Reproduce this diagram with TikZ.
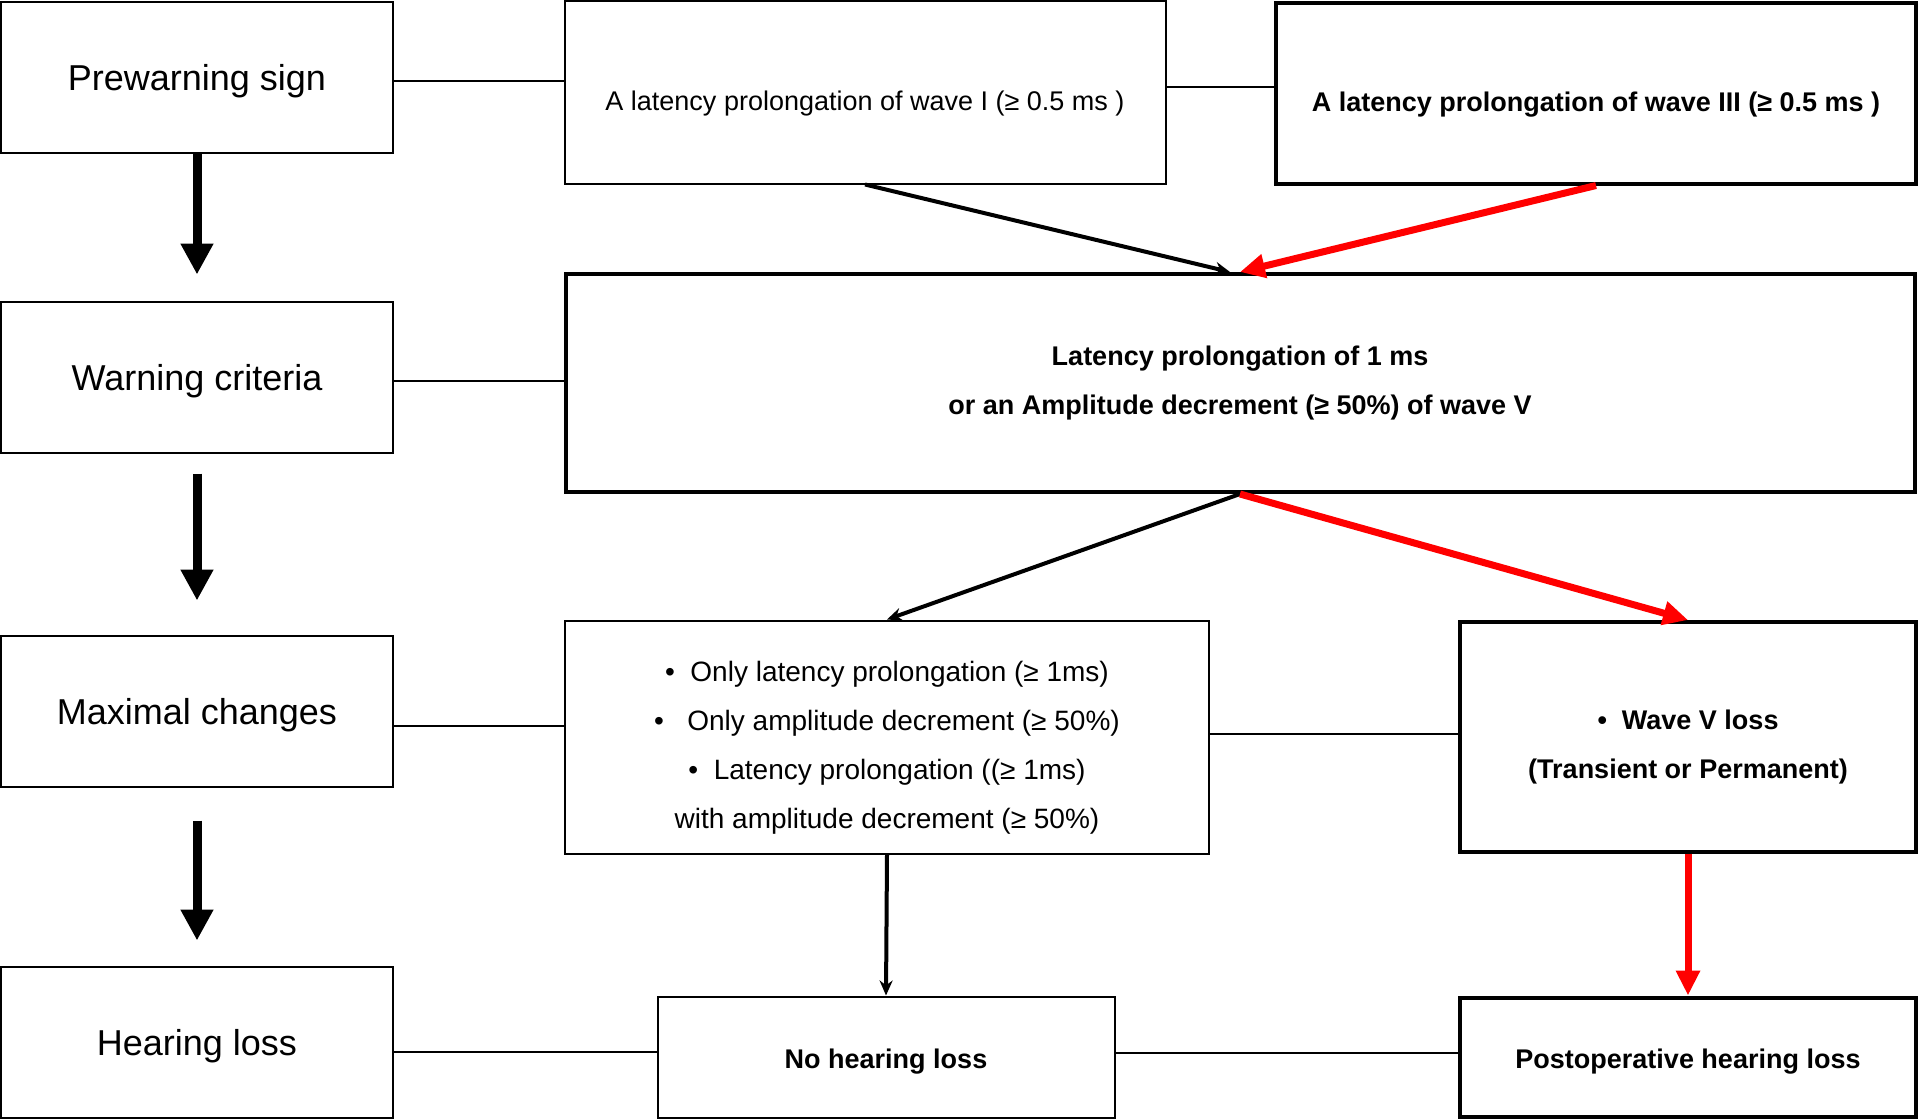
\documentclass[tikz,border=0pt]{standalone}
\usepackage{fontspec}
\setmainfont{Liberation Sans}
\usetikzlibrary{arrows.meta,positioning}

% text set a little below the middle of its box
\newcommand{\lowtext}[2]{\raisebox{0pt}[\dimexpr\height+#1\relax][\depth]{\begin{tabular}{@{}c@{}}#2\end{tabular}}}

\begin{document}
\begin{tikzpicture}[
            x=1pt, y=-1pt,
            stage/.style={draw, rectangle, line width=2pt, minimum width=392pt, minimum height=151pt, inner sep=0pt, align=center, font=\fontsize{36}{43}\selectfont},
            box/.style={draw, rectangle, line width=2pt, inner sep=0pt, align=center, font=\fontsize{27}{49}\selectfont},
            keybox/.style={box, line width=4pt, font=\fontsize{27}{49}\selectfont\bfseries},
            link/.style={line width=2pt},
            flow/.style={line width=9pt, -{Triangle[length=31pt,width=31pt]}},
            path/.style={line width=4pt, -{Stealth[length=15pt,width=13pt]}},
            redpath/.style={line width=7pt, red, -{Triangle[length=25pt,width=23pt]}}
        ]
            \useasboundingbox (0,0) rectangle (1922,1119);

            % stages on the left
            \node[stage] (pre) at (197,77) {\lowtext{10pt}{Prewarning sign}};
            \node[stage] (warn) at (197,377) {\lowtext{10pt}{Warning criteria}};
            \node[stage] (maxc) at (197,711) {\lowtext{10pt}{Maximal changes}};
            \node[stage] (hear) at (197,1042) {\lowtext{10pt}{Hearing loss}};

            % findings
            \node[box, minimum width=601pt, minimum height=183pt] (wave1) at (865,92) {\lowtext{17pt}{A latency prolongation of wave I (≥ 0.5 ms )}};
            \node[keybox, minimum width=640pt, minimum height=181pt] (wave3) at (1596,93) {\lowtext{17pt}{A latency prolongation of wave III (≥ 0.5 ms )}};
            \node[keybox, minimum width=1349pt, minimum height=218pt] (crit) at (1240,383) {Latency prolongation of 1 ms\\or an Amplitude decrement (≥ 50\%) of wave V};
            \node[box, minimum width=644pt, minimum height=233pt, font=\fontsize{28}{49}\selectfont] (maxb) at (887,737) {\lowtext{16pt}{•\ \ Only latency prolongation (≥ 1ms)\\•\ \ \ Only amplitude decrement (≥ 50\%)\\•\ \ Latency prolongation ((≥ 1ms)\\with amplitude decrement (≥ 50\%)}};
            \node[keybox, minimum width=456pt, minimum height=230pt] (wv) at (1688,737) {\lowtext{14pt}{•\ \ Wave V loss\\(Transient or Permanent)}};
            \node[box, minimum width=457pt, minimum height=121pt, font=\fontsize{27}{49}\selectfont\bfseries] (nohl) at (886,1057) {\lowtext{3pt}{No hearing loss}};
            \node[keybox, minimum width=456pt, minimum height=119pt] (post) at (1688,1057) {\lowtext{3pt}{Postoperative hearing loss}};

            % horizontal links
            \draw[link] ([yshift=-4]pre.east) -- ([yshift=-4]pre.east -| wave1.west);
            \draw[link] ([yshift=5]wave1.east) -- ([yshift=5]wave1.east -| wave3.west);
            \draw[link] ([yshift=-4]warn.east) -- ([yshift=-4]warn.east -| crit.west);
            \draw[link] ([yshift=-15]maxc.east) -- ([yshift=-15]maxc.east -| maxb.west);
            \draw[link] ([yshift=3]maxb.east) -- ([yshift=3]maxb.east -| wv.west);
            \draw[link] ([yshift=-10]hear.east) -- ([yshift=-10]hear.east -| nohl.west);
            \draw[link] ([yshift=4]nohl.east) -- ([yshift=4]nohl.east -| post.west);

            % stage arrows
            \draw[flow] (pre.south) -- ([yshift=26]warn.north);
            \draw[flow] ([yshift=-20]warn.south) -- ([yshift=34]maxc.north);
            \draw[flow] ([yshift=-33]maxc.south) -- ([yshift=25]hear.north);

            % course arrows
            \draw[path] (wave1.south) -- ([xshift=-10]crit.north);
            \draw[redpath] (wave3.south) -- (crit.north);
            \draw[path] (crit.south) -- (maxb.north);
            \draw[redpath] (crit.south) -- (wv.north);
            \draw[path] (maxb.south) -- (nohl.north);
            \draw[redpath] (wv.south) -- (post.north);
        \end{tikzpicture}
\end{document}
